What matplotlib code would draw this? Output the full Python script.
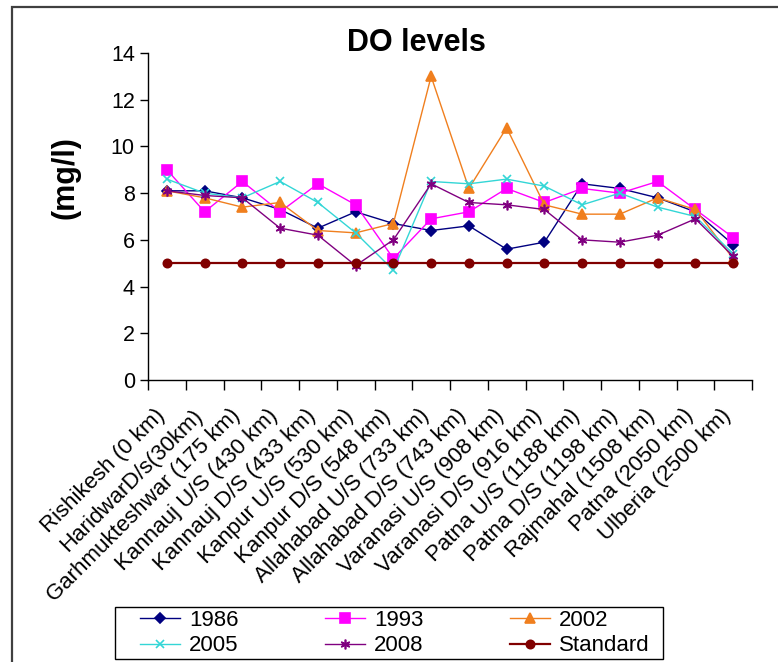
import matplotlib
matplotlib.use("Agg")
import matplotlib.pyplot as plt
from matplotlib.patches import Rectangle
from matplotlib.transforms import blended_transform_factory, ScaledTranslation

plt.rcParams['font.family'] = ['Liberation Sans', 'DejaVu Sans']

# sampling stations along the Ganga
stations = ["Rishikesh (0 km)", "HaridwarD/s(30km)", "Garhmukteshwar (175 km)",
            "Kannauj U/S (430 km)", "Kannauj D/S (433 km)", "Kanpur U/S (530 km)",
            "Kanpur D/S (548 km)", "Allahabad U/S (733 km)", "Allahabad D/S (743 km)",
            "Varanasi U/S (908 km)", "Varanasi D/S (916 km)", "Patna U/S (1188 km)",
            "Patna D/S (1198 km)", "Rajmahal (1508 km)", "Patna (2050 km)",
            "Ulberia (2500 km)"]

# dissolved oxygen, mg/l
do_1986 = [8.1, 8.1, 7.8, 7.3, 6.5, 7.2, 6.7, 6.4, 6.6, 5.6, 5.9, 8.4, 8.2, 7.8, 7.2, 5.8]
do_1993 = [9.0, 7.2, 8.5, 7.2, 8.4, 7.5, 5.2, 6.9, 7.2, 8.2, 7.6, 8.2, 8.0, 8.5, 7.3, 6.1]
do_2002 = [8.1, 7.8, 7.4, 7.6, 6.4, 6.3, 6.7, 13.0, 8.2, 10.8, 7.5, 7.1, 7.1, 7.8, 7.3, 5.2]
do_2005 = [8.6, 8.0, 7.8, 8.5, 7.6, 6.3, 4.7, 8.5, 8.4, 8.6, 8.3, 7.5, 8.0, 7.4, 7.0, 5.4]
do_2008 = [8.1, 7.9, 7.8, 6.5, 6.2, 4.9, 6.0, 8.4, 7.6, 7.5, 7.3, 6.0, 5.9, 6.2, 6.9, 5.3]
standard = [5, 5, 5, 5, 5, 5, 5, 5, 5, 5, 5, 5, 5, 5, 5, 5]

series = [
    ("1986", do_1986, "#000080", "D", 5.5, 1.0),
    ("1993", do_1993, "#FF00FF", "s", 6.5, 1.0),
    ("2002", do_2002, "#F07F1E", "^", 6.5, 1.0),
    ("2005", do_2005, "#33D6D6", "x", 6, 1.0),
    ("2008", do_2008, "#800080", (6, 2, 0), 7, 1.0),
    ("Standard", standard, "#800000", "o", 6, 1.6),
]

W, H = 778, 662
fig = plt.figure(figsize=(W / 100, H / 100), dpi=100)

# outer chart frame
fig.patches.append(Rectangle((12 / W, -0.1), 1.2, (H - 7) / H + 0.1,
                             transform=fig.transFigure, fill=False,
                             edgecolor="#404040", linewidth=1.6))

ax = fig.add_axes([148 / W, (H - 380) / H, 604 / W, 327 / H])
x = list(range(len(stations)))

handles = {}
for name, vals, col, mk, ms, lw in series:
    h, = ax.plot(x, vals, color=col, marker=mk, markersize=ms, linewidth=lw,
                 markeredgecolor=col, markerfacecolor=col, markeredgewidth=1.2,
                 label=name)
    handles[name] = h

ax.set_xlim(-0.5, len(stations) - 0.5)
ax.set_ylim(0, 14)
ax.set_yticks(range(0, 15, 2))
ax.tick_params(axis='y', labelsize=15.5, length=6, direction='out', width=1)

# tick marks sit between categories, names are drawn at the centres
ax.set_xticks([i - 0.5 for i in range(len(stations) + 1)])
ax.set_xticklabels([])
ax.tick_params(axis='x', which='major', length=7, direction='out', width=1)

lab_tr = blended_transform_factory(ax.transData, ax.transAxes) + \
    ScaledTranslation(-13 / 100, -25 / 100, fig.dpi_scale_trans)
for i, name in enumerate(stations):
    ax.text(i, 0, name, transform=lab_tr, rotation=45, ha='right', va='top',
            rotation_mode='anchor', fontsize=16, clip_on=False)

for s in ['top', 'right']:
    ax.spines[s].set_visible(False)
for s in ['left', 'bottom']:
    ax.spines[s].set_linewidth(1.0)

fig.text(416 / W, 1 - 43 / H, "DO levels", fontsize=22, fontweight='bold',
         ha='center', va='center')
fig.text(66 / W, 1 - 178 / H, "(mg/l)", fontsize=22, fontweight='bold',
         rotation=90, ha='center', va='center')

order = ["1986", "2005", "1993", "2008", "2002", "Standard"]
leg = fig.legend([handles[n] for n in order], order, ncol=3, fontsize=16,
                 loc='upper left', bbox_to_anchor=(140 / W, 1 - 610 / H),
                 frameon=False, handlelength=1.8, handletextpad=0.4,
                 columnspacing=3.9, labelspacing=0.2, borderpad=0,
                 borderaxespad=0)

# legend box
fig.patches.append(Rectangle((115 / W, 1 - 659 / H), 548 / W, 52 / H,
                             transform=fig.transFigure, fill=False,
                             edgecolor='black', linewidth=1.0))

fig.savefig("out.png", dpi=100, facecolor='white')
